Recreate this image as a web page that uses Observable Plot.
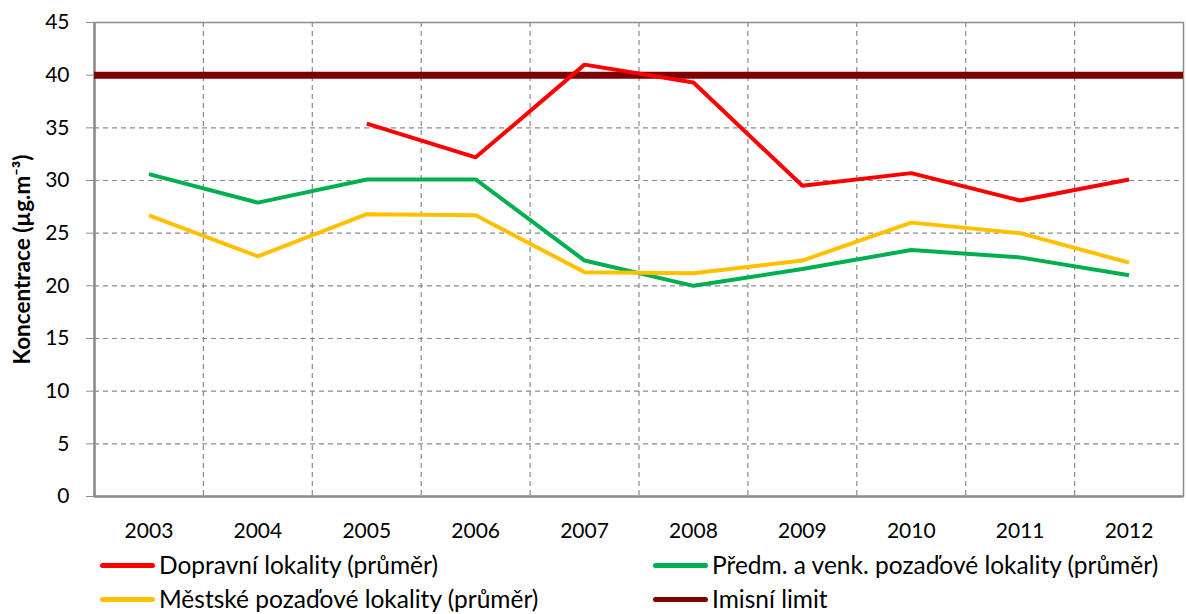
<!DOCTYPE html>
<html>
<head>
<meta charset="utf-8">
<script src="https://cdn.jsdelivr.net/npm/d3@7"></script>
<script src="https://cdn.jsdelivr.net/npm/@observablehq/plot@0.6"></script>
<style>
  html, body { margin: 0; padding: 0; background: #fff; overflow: hidden; }
  #wrap { position: relative; width: 1186px; height: 614px; font-family: Lato, "Open Sans", sans-serif; overflow: hidden; }
  .leg { position: absolute; display: flex; align-items: center; font-size: 24.5px; line-height: 26px; color: #000; white-space: nowrap; }
  .sw { width: 55px; height: 5px; border-radius: 3px; margin-right: 4px; }
</style>
</head>
<body>
<div id="wrap"></div>
<script>
const years = [2003, 2004, 2005, 2006, 2007, 2008, 2009, 2010, 2011, 2012];
const dopravni = [null, null, 35.4, 32.2, 41.0, 39.3, 29.5, 30.7, 28.1, 30.1];
const predm = [30.6, 27.9, 30.1, 30.1, 22.4, 20.0, 21.6, 23.4, 22.7, 21.0];
const mestske = [26.7, 22.8, 26.8, 26.7, 21.3, 21.2, 22.4, 26.0, 25.0, 22.2];
const limit = [40];
const yTicks = [0, 5, 10, 15, 20, 25, 30, 35, 40, 45];
const gridY = [5, 10, 15, 20, 25, 30, 35, 40];
const gridX = [2003.5, 2004.5, 2005.5, 2006.5, 2007.5, 2008.5, 2009.5, 2010.5, 2011.5];

const seriesNames = ["Dopravní lokality (průměr)", "Předm. a venk. pozaďové lokality (průměr)", "Městské pozaďové lokality (průměr)", "Imisní limit"];
const seriesColors = ["#ff0000", "#00b050", "#ffc000", "#7f0000"];

const rows = [];
[[dopravni, 0], [predm, 1], [mestske, 2]].forEach(([arr, i]) => {
  years.forEach((y, j) => { if (arr[j] != null) rows.push({year: y, value: arr[j], series: seriesNames[i]}); });
});

const chart = Plot.plot({
  width: 1186,
  height: 548,
  marginLeft: 94,
  marginRight: 3,
  marginTop: 22,
  marginBottom: 52,
  style: {fontFamily: "Lato, 'Open Sans', sans-serif", fontSize: "21px", color: "#000", background: "#fff"},
  x: {type: "linear", domain: [2002.5, 2012.5]},
  y: {domain: [0, 45]},
  color: {domain: seriesNames, range: seriesColors},
  marks: [
    Plot.ruleY(gridY, {stroke: "#8a8a8a", strokeWidth: 1.2, strokeDasharray: "5,4"}),
    Plot.ruleX(gridX, {stroke: "#8a8a8a", strokeWidth: 1.2, strokeDasharray: "5,4"}),
    Plot.frame({stroke: "#8c8c8c", strokeWidth: 1.5}),
    Plot.axisY({ticks: yTicks, tickSize: 8, tickPadding: 17, stroke: "#8c8c8c", tickFormat: d => String(d),
      label: "Koncentrace (µg.m⁻³)", labelAnchor: "center", labelArrow: "none", labelOffset: 80}),
    Plot.axisX({ticks: years, tickSize: 0, tickPadding: 27, tickFormat: d => String(d), label: null}),
    Plot.ruleY([0], {stroke: "#8c8c8c", strokeWidth: 2.5}),
    Plot.ruleX([2002.5], {stroke: "#8c8c8c", strokeWidth: 2.5}),
    Plot.ruleY(limit, {stroke: seriesColors[3], strokeWidth: 7}),
    Plot.line(rows, {x: "year", y: "value", z: "series", stroke: "series", strokeWidth: 4, strokeLinejoin: "miter", strokeLinecap: "butt"})
  ]
});
const wrap = document.getElementById("wrap");
wrap.appendChild(chart);
chart.querySelectorAll("g[aria-label='y-axis label'] text").forEach(t => {
  t.setAttribute("font-weight", "bold");
  t.setAttribute("font-size", "22.5px");
});

const legendPos = [[100, 565, 0], [653, 565, 1], [100, 599, 2], [653, 599, 3]];
legendPos.forEach(([x, y, i]) => {
  const d = document.createElement("div");
  d.className = "leg";
  d.style.left = x + "px";
  d.style.top = (y - 13) + "px";
  d.style.height = "26px";
  const s = document.createElement("div");
  s.className = "sw";
  s.style.background = seriesColors[i];
  const t = document.createElement("span");
  t.textContent = seriesNames[i];
  d.appendChild(s); d.appendChild(t);
  wrap.appendChild(d);
});
</script>
</body>
</html>
